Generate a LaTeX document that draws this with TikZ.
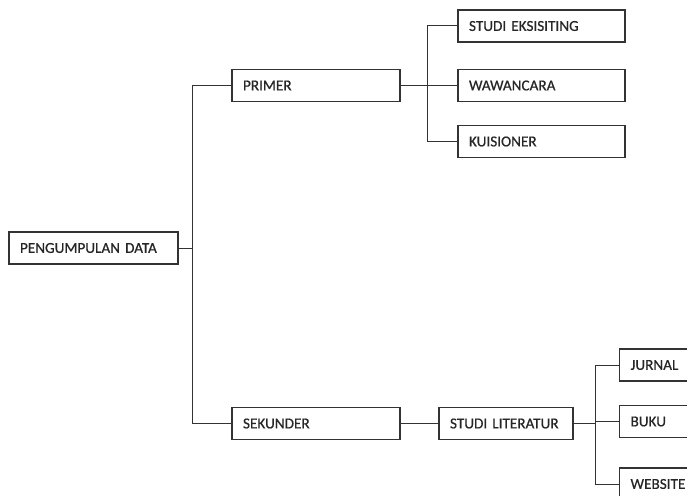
\documentclass[tikz,border=0pt]{standalone}
\usepackage{fontspec}
\setmainfont{Carlito}[FakeBold=0.6]
\newcommand\boxlabelfont{\fontsize{15.2}{17}\selectfont\spaceskip=0.2em\relax}
\begin{document}
\begin{tikzpicture}[x=1pt,y=-1pt,
  box/.style={draw=black!80, line width=1.1pt, rectangle, minimum height=32pt,
    inner xsep=11pt, inner ysep=0pt, align=left,
    font=\boxlabelfont, text=black!85},
  link/.style={draw=black!80, line width=1pt}]
\clip (0,0) rectangle (687,495);
\fill[white] (0,0) rectangle (687,495);

% boxes
\node[box, text width=147pt] (pd) at (93.5,248) {PENGUMPULAN DATA};
\node[box, text width=146pt] (primer) at (316,85.5) {PRIMER};
\node[box, text width=146pt] (sekunder) at (316,423.5) {SEKUNDER};
\node[box, text width=145pt] (se) at (541.5,26) {STUDI EKSISITING};
\node[box, text width=145pt] (wa) at (541.5,85.5) {WAWANCARA};
\node[box, text width=145pt] (ku) at (541.5,141.5) {KUISIONER};
\node[box, text width=112pt] (sl) at (506,423.5) {STUDI LITERATUR};
\node[box, text width=100pt, anchor=west] (ju) at (619,365) {JURNAL};
\node[box, text width=100pt, anchor=west] (bu) at (619,421.5) {BUKU};
\node[box, text width=100pt, anchor=west] (we) at (619,484) {WEBSITE};

% branch points
\coordinate (j1) at (192,248);
\coordinate (j2) at (427,85.5);
\coordinate (j3) at (595,423.5);

% connectors
\draw[link] (pd.east) -- (j1) |- (primer.west);
\draw[link] (j1) |- (sekunder.west);
\draw[link] (primer.east) -- (j2) |- (se.west);
\draw[link] (j2) -- (wa.west);
\draw[link] (j2) |- (ku.west);
\draw[link] (sekunder.east) -- (sl.west);
\draw[link] (sl.east) -- (j3) |- (ju.west);
\draw[link] (j3) |- (bu.west);
\draw[link] (j3) |- (we.west);
\end{tikzpicture}
\end{document}
